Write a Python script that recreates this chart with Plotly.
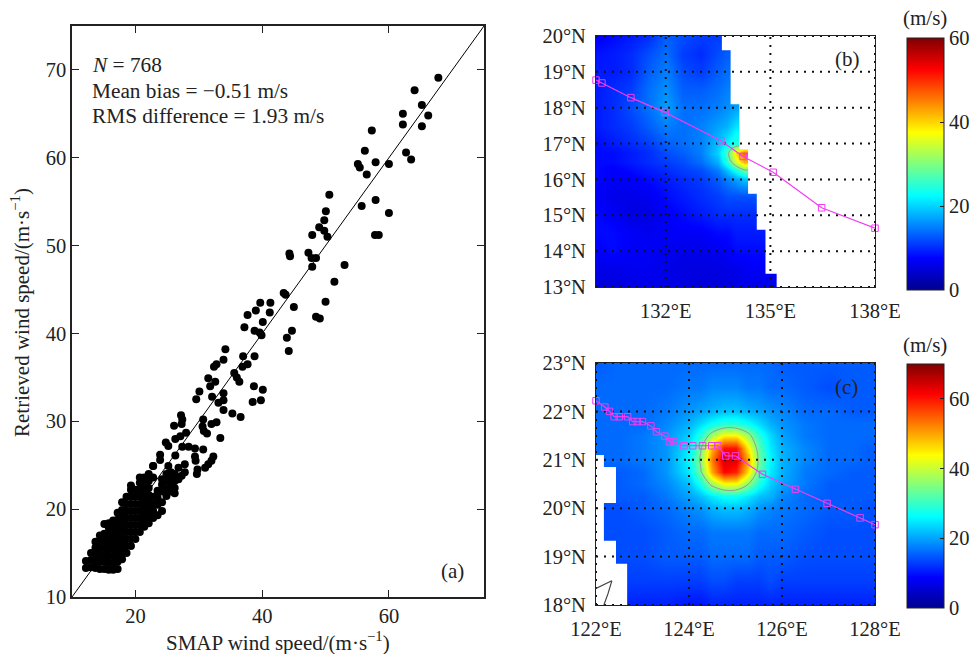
import plotly.graph_objects as go

W, H = 973, 654
FONT = "Liberation Serif"
RIGHT_MARGIN = 70

# ---------- panel (a): scatter values ----------
sparse_smap = [67.8,64.05,65.2,62.2,66.2,62.2,65.2,57.3,56.2,62.7,63.5,57.9,60,55.1,55.4,56.5,50.6,55.7,57.9,60,50.05,49.8,49,49.8,47.9,50.3,57.8,58.4,44.3,44.4,47.3,47.8,48.5,47.9,53,51.4,43.4,43.7,50,45,39.7,41.3,39,41.2,37.7,48.5,49.1,40.1,
  37.2,38.8,39.6,39.9,43.9,44.7,44.2,34.2,33.9,37,38.8,37.7,36.9,32.4,32.8,35.6,36,31.5,32.6,36.4,31.8,38.7,40.1,30.1,33.9,29.6,32.1,33.9,33.1,38.5,39.8,33.9,35.3,36.6,27.2,27.4,27.3,26.1,30.7,32.8,32,30.6,30.8,31.3,28,27.1,26.3,33.4,24.8,25.2,27.4,28.4,29.4,30.7,23.9,26.3,29.4,29.5,32.3,32,31.5,31,23.9,22.8,25.2,27.8,26.8,29.8,29.7,27.8,26.8,27.3]
sparse_retr = [69.1,67.7,66.0,65.0,64.8,63.8,63.6,63.1,60.8,60.6,59.8,59.5,59.3,59.3,58.9,58.1,55.8,54.5,55.2,53.7,53.9,52.9,52.1,51.7,51.2,51,51.2,51.2,49.1,48.8,49.2,48.6,48.6,47.6,47.8,45.9,44.6,44.4,43.6,43,43.5,43.5,42.6,42.4,42.1,41.9,41.7,41.3,
  40.7,40.3,40.1,39.8,39.5,40.3,38,38.2,37,37.4,37.4,36.5,36.2,36.2,36.5,35.5,35,34.9,34.5,34.5,34,34,33.6,33.4,33.2,32.5,32.8,32.4,32.1,32.2,32.4,31.3,30.9,30.5,30.7,30.2,29.7,29.5,30.2,29.9,29.7,29.4,28.9,28.6,28.7,28.3,28,28.1,27.6,27.2,27.1,27.1,26.9,26.8,26.2,26.1,26,25.5,26,25.5,25.1,24.7,25.6,24.9,24.9,25.1,24.7,24.5,24,24.2,23.4,23.8]

cluster_smap = [12.2,13,13.7,14.4,15.1,15.8,16.5,17.2,17.9,18.6,19.3,20,20.7,21.4,22.1,22.8,23.5,24.2,24.9,25.6,26.2]
cluster_retr = [
 [13.3,14.1],
 [13.4,14.2,15],
 [13.3,14.1,14.9,15.6,16.3],
 [13.2,14,14.8,15.6,16.4,17],
 [13.2,14,14.8,15.6,16.4,17.2,18.3],
 [13.1,13.9,14.7,15.5,16.3,17.1,17.9,18.4],
 [13.1,13.9,14.7,15.5,16.3,17.1,17.9,18.7],
 [13.2,14,14.8,15.6,16.4,17.2,18,18.8,19.6],
 [14.3,15.1,15.9,16.7,17.5,18.3,19.1,19.9,20.8],
 [15,15.8,16.6,17.4,18.2,19,19.8,20.6,21.4],
 [15.8,16.6,17.4,18.2,19,19.8,20.6,21.4,22.2,22.7],
 [16.6,17.4,18.2,19,19.8,20.6,21.4,22.2],
 [17.4,18.2,19,19.8,20.6,21.4,22.2,23,23.6],
 [18,18.8,19.6,20.4,21.2,22,22.8,23.6],
 [18.4,19.2,20,20.8,21.6,22.4,23.2,24],
 [19,19.8,20.6,21.4,23.6,24.9],
 [19.3,20.5,21.3,22.1],
 [19.8,20.8,22,22.8,23.4],
 [21.5,22.3,23.2,24],
 [22,22.7,23.5,24.2],
 [21.8,22.4,23.2,24],
]
a_ticks_x = [20, 40, 60]
a_ticks_y = [10, 20, 30, 40, 50, 60, 70]
stats_lines = ["<i>N</i> = 768", "Mean bias = \u22120.51 m/s", "RMS difference = 1.93 m/s"]

# ---------- panel (b): wind field ----------
b_lon = [130,130.5,131,131.5,132,132.5,133,133.5,133.75,134,134.25,134.5,135,135.25]
b_lat = [13,13.5,14,14.5,15,15.5,16,16.25,16.5,16.75,17,17.5,18,18.5,19,19.5,20]
b_wind = [
 [5,5,5.5,6,6,5.5,5,5,5,5.5,6,6,6,6],
 [6,6,6.5,6.5,6,5.5,5.5,5.5,6,6,6.5,7,7,7],
 [7,8,7,7,6.5,6,6,6.5,7,8,8,8,8,8],
 [8,8,7,6.5,7,7,7,8,8,9,9,9,9,9],
 [8,7,5.5,5.5,7,8,9,10,10,10,10,10,10,10],
 [7,6,6,6.5,8,9,10,11,12,12,12,12,12,12],
 [8,7,7,8,9,10,11,13,15,17,19,19,19,19],
 [8,7,8,9,10,11,12,15,19,24,29,29,29,29],
 [8,8,9,10,11,12,14,18,25,35,42,42,42,42],
 [8,8,9,10,12,13,15,20,27,40,47,47,47,47],
 [8,9,10,11,13,14,15,19,22,25,25,25,25,25],
 [9,10,11,13,15,14,15,17,18,21,21,21,21,21],
 [9,10,12,14,17,14,14,15,16,17,17,17,17,17],
 [9,10,11,14,16,13,13,14,15,15,15,15,15,15],
 [9,9,10,13,15,12,11,13,14,14,14,14,14,14],
 [8.5,9,10,12,14,11,10,12,13,13,13,13,13,13],
 [7,8,9,10,13,12,11,11,11,11,11,11,11,11],
]
b_mask_lon = [133.61,133.61,133.86,133.86,134.11,134.11,134.36,134.36,134.61,134.61,134.86,134.86,135.18,135.18,138,138]
b_mask_lat = [20,19.6,19.6,18.1,18.1,16.85,16.85,15.6,15.6,14.6,14.6,13.37,13.37,13,13,20]
b_track_lon = [130,130.17,131.0,131.98,133.58,134.22,135.08,136.47,138]
b_track_lat = [18.77,18.69,18.28,17.87,17.08,16.64,16.2,15.21,14.64]
b_ticks_lon = [132,135,138]
b_ticks_lat = [13,14,15,16,17,18,19,20]
b_level = 30
b_cbar_ticks = [0,20,40,60]

# ---------- panel (c): wind field ----------
c_lon = [122,122.5,123,123.5,124,124.25,124.5,124.75,125,125.25,125.5,125.75,126,126.5,127,127.5,128]
c_lat = [18,18.5,19,19.5,20,20.25,20.5,20.75,21,21.25,21.5,21.75,22,22.5,23]
c_wind = [
 [11,11,11,11,10,10,11,11,11,11,11,11,11,11,11,11,11],
 [13,13,13,13,13,13,14,14,13,13,13,14,13,13,13,13,13],
 [13,14,14,15,15,15,16,16,16,16,15,15,15,14,14,14,14],
 [14,14,14,15,16,16,17,17,17,17,16,16,16,15,14,14,14],
 [14,14,15,16,18,19,21,22,22,21,19,18,17,16,15,15,14],
 [14,15,15,17,20,22,25,27,27,25,22,21,18,16,15,15,15],
 [15,15,16,18,22,28,37,43,43,36,28,23,20,17,15,15,15],
 [15,15,16,19,25,34,50,61,59,47,32,25,21,17,16,15,15],
 [16,16,17,19,26,36,53,64,63,51,34,26,21,18,16,16,15],
 [16,16,17,19,25,34,49,60,60,46,32,25,21,18,16,16,15],
 [16,16,17,19,23,29,38,45,45,38,29,24,20,17,16,16,16],
 [16,16,16,18,21,24,27,29,29,27,24,21,19,17,16,16,16],
 [16,16,16,17,19,20,21,22,22,21,20,19,18,16,16,15,15],
 [16,16,16,16,17,17,18,18,18,17,17,16,16,15,14,15,15],
 [15,16,16,16,16,16,16,16,16,16,16,16,15,15,15,15,15],
]
c_mask_lon = [122,122.17,122.17,122.43,122.43,122.17,122.17,122.43,122.43,122.67,122.67,122]
c_mask_lat = [21.1,21.1,20.85,20.85,20.11,20.11,19.33,19.33,18.85,18.85,18,18]
c_coast_lon = [122,122.34,122.26,122.17]
c_coast_lat = [18.34,18.5,18.24,18]
c_track_lon = [122,122.19,122.29,122.39,122.5,122.68,122.79,122.89,123,123.18,123.3,123.48,123.58,123.68,123.89,124.08,124.29,124.49,124.62,124.79,125,125.58,126.29,126.97,127.68,128]
c_track_lat = [22.22,22.09,22.0,21.89,21.89,21.89,21.79,21.79,21.79,21.7,21.58,21.49,21.37,21.37,21.29,21.29,21.29,21.29,21.29,21.08,21.08,20.7,20.39,20.1,19.8,19.66]
c_ticks_lon = [122,124,126,128]
c_ticks_lat = [18,19,20,21,22,23]
c_level = 35
c_cbar_ticks = [0,20,40,60]

JET = [[0,"rgb(0,0,143)"],[0.125,"rgb(0,0,255)"],[0.375,"rgb(0,255,255)"],
       [0.625,"rgb(255,255,0)"],[0.875,"rgb(255,0,0)"],[1,"rgb(128,0,0)"]]
GRAY = "#9a9a9a"
MAGENTA = "#f23cf2"
TICK_SIZE = 20.5

def fx(p): return p / (W - RIGHT_MARGIN)   # pixel to plot-area fraction
def fy(p): return 1 - p / H
def cx(p): return p / W                    # pixel to container fraction

fig = go.Figure()

# (a)
sx = list(sparse_smap); sy = list(sparse_retr)
for xv, ys in zip(cluster_smap, cluster_retr):
    for yv in ys:
        sx.append(xv); sy.append(yv)
fig.add_trace(go.Scatter(x=[10,75], y=[10,75], mode="lines", line=dict(color="black", width=1),
                         xaxis="x", yaxis="y", showlegend=False))
fig.add_trace(go.Scatter(x=sx, y=sy, mode="markers", marker=dict(color="black", size=8),
                         xaxis="x", yaxis="y", showlegend=False))

def map_panel(ax, lon, lat, wind, zmax, level, mlon, mlat, tlon, tlat, tklon, tklat, xr, yr, cb_top, cb_bot, cb_ticks):
    xa, ya = ("x"+ax, "y"+ax)
    fig.add_trace(go.Heatmap(x=lon, y=lat, z=wind, zmin=0, zmax=zmax, zsmooth="best", colorscale=JET,
        xaxis=xa, yaxis=ya, hoverinfo="skip",
        colorbar=dict(xref="container", yref="container", x=cx(907), xanchor="left", xpad=0, ypad=0, thickness=37, thicknessmode="pixels",
                      y=fy(cb_bot), yanchor="bottom", len=(cb_bot-cb_top), lenmode="pixels",
                      outlinecolor="#222", outlinewidth=1, tickmode="array", tickvals=cb_ticks,
                      ticks="inside", ticklen=4, tickcolor="#222",
                      tickfont=dict(family=FONT, size=TICK_SIZE, color="#222"))))
    fig.add_trace(go.Contour(x=lon, y=lat, z=wind, autocontour=False, showscale=False, hoverinfo="skip",
        contours=dict(start=level, end=level, size=1, coloring="none"),
        line=dict(color=GRAY, width=1), xaxis=xa, yaxis=ya, showlegend=False))
    fig.add_trace(go.Scatter(x=mlon, y=mlat, mode="lines", fill="toself", fillcolor="white",
        line=dict(width=0, color="white"), xaxis=xa, yaxis=ya, showlegend=False, hoverinfo="skip"))
    for t in tklon:
        fig.add_trace(go.Scatter(x=[t,t], y=yr, mode="lines", line=dict(color="#111", width=2, dash="2px,6px"),
                                 xaxis=xa, yaxis=ya, showlegend=False, hoverinfo="skip"))
    for t in tklat:
        fig.add_trace(go.Scatter(x=xr, y=[t,t], mode="lines", line=dict(color="#111", width=2, dash="2px,6px"),
                                 xaxis=xa, yaxis=ya, showlegend=False, hoverinfo="skip"))
    fig.add_trace(go.Scatter(x=tlon, y=tlat, mode="lines+markers", cliponaxis=False,
        line=dict(color=MAGENTA, width=1.2),
        marker=dict(symbol="square-open", size=6.5, color=MAGENTA, line=dict(width=1, color=MAGENTA)),
        xaxis=xa, yaxis=ya, showlegend=False))

map_panel("2", b_lon, b_lat, b_wind, 60, b_level, b_mask_lon, b_mask_lat, b_track_lon, b_track_lat,
          b_ticks_lon, b_ticks_lat, [130,138], [13,20], 38, 290, b_cbar_ticks)
map_panel("3", c_lon, c_lat, c_wind, 70, c_level, c_mask_lon, c_mask_lat, c_track_lon, c_track_lat,
          c_ticks_lon, c_ticks_lat, [122,128], [18,23], 364, 608, c_cbar_ticks)
fig.add_trace(go.Scatter(x=c_coast_lon, y=c_coast_lat, mode="lines", line=dict(color="#444", width=1.2),
                         xaxis="x3", yaxis="y3", showlegend=False, hoverinfo="skip"))

tf = dict(family=FONT, size=TICK_SIZE, color="#222")
def a_axis(dom, rng, ticks, anchor):
    return dict(domain=dom, range=rng, tickmode="array", tickvals=ticks, ticks="inside", ticklen=7,
                tickcolor="#222", showgrid=False, zeroline=False, showline=True, linecolor="#222",
                linewidth=1.5, mirror="ticks", tickfont=tf, anchor=anchor, automargin=False)
def m_axis(dom, rng, ticks, suf, anchor):
    return dict(domain=dom, range=rng, tickmode="array", tickvals=ticks, ticktext=[f"{t}\u00b0{suf}" for t in ticks],
                ticks="outside", ticklen=5, tickcolor="rgba(0,0,0,0)", showgrid=False, zeroline=False,
                showline=True, linecolor="#222", linewidth=1, mirror=True, tickfont=tf, anchor=anchor,
                layer="above traces", automargin=False)

fig.update_layout(
    width=W, height=H, autosize=False, margin=dict(l=0, r=RIGHT_MARGIN, t=0, b=0),
    paper_bgcolor="white", plot_bgcolor="white", font=dict(family=FONT, color="#222"), showlegend=False,
    xaxis=a_axis([fx(72),fx(484)], [10,75], a_ticks_x, "y"),
    yaxis=a_axis([fy(597),fy(26)], [10,75], a_ticks_y, "x"),
    xaxis2=m_axis([fx(596),fx(875)], [130,138], b_ticks_lon, "E", "y2"),
    yaxis2=m_axis([fy(287),fy(36)], [13,20], b_ticks_lat, "N", "x2"),
    xaxis3=m_axis([fx(596),fx(875)], [122,128], c_ticks_lon, "E", "y3"),
    yaxis3=m_axis([fy(605),fy(363)], [18,23], c_ticks_lat, "N", "x3"),
)

def note(px, py, text, xanchor="center", size=21, angle=0):
    fig.add_annotation(x=fx(px), y=fy(py), xref="paper", yref="paper", text=text, showarrow=False, textangle=angle,
                       xanchor=xanchor, yanchor="middle", font=dict(family=FONT, size=size, color="#222"))
for py, line in zip([65, 91, 116], stats_lines):
    note(90, py, line, xanchor="left", size=21.3)
note(453, 571, "(a)")
note(847, 59, "(b)")
note(846, 387, "(c)")
note(925, 18, "(m/s)")
note(925, 345, "(m/s)")
note(278, 641, "SMAP wind speed/(m\u00b7s<sup>\u22121</sup>)")
note(20, 313, "Retrieved wind speed/(m\u00b7s<sup>\u22121</sup>)", angle=-90)

for level, zmax, top, bot in [(b_level, 60, 38, 290), (c_level, 70, 364, 608)]:
    yp = fy(bot) + (level / zmax) * (bot - top) / H
    fig.add_shape(type="line", xref="paper", yref="paper", x0=fx(907), x1=fx(944), y0=yp, y1=yp,
                  line=dict(color="rgba(150,150,150,0.85)", width=3))

fig.write_html("out.html", config=dict(displayModeBar=False),
               post_script="document.body.style.margin='0';document.body.style.overflow='hidden';")
